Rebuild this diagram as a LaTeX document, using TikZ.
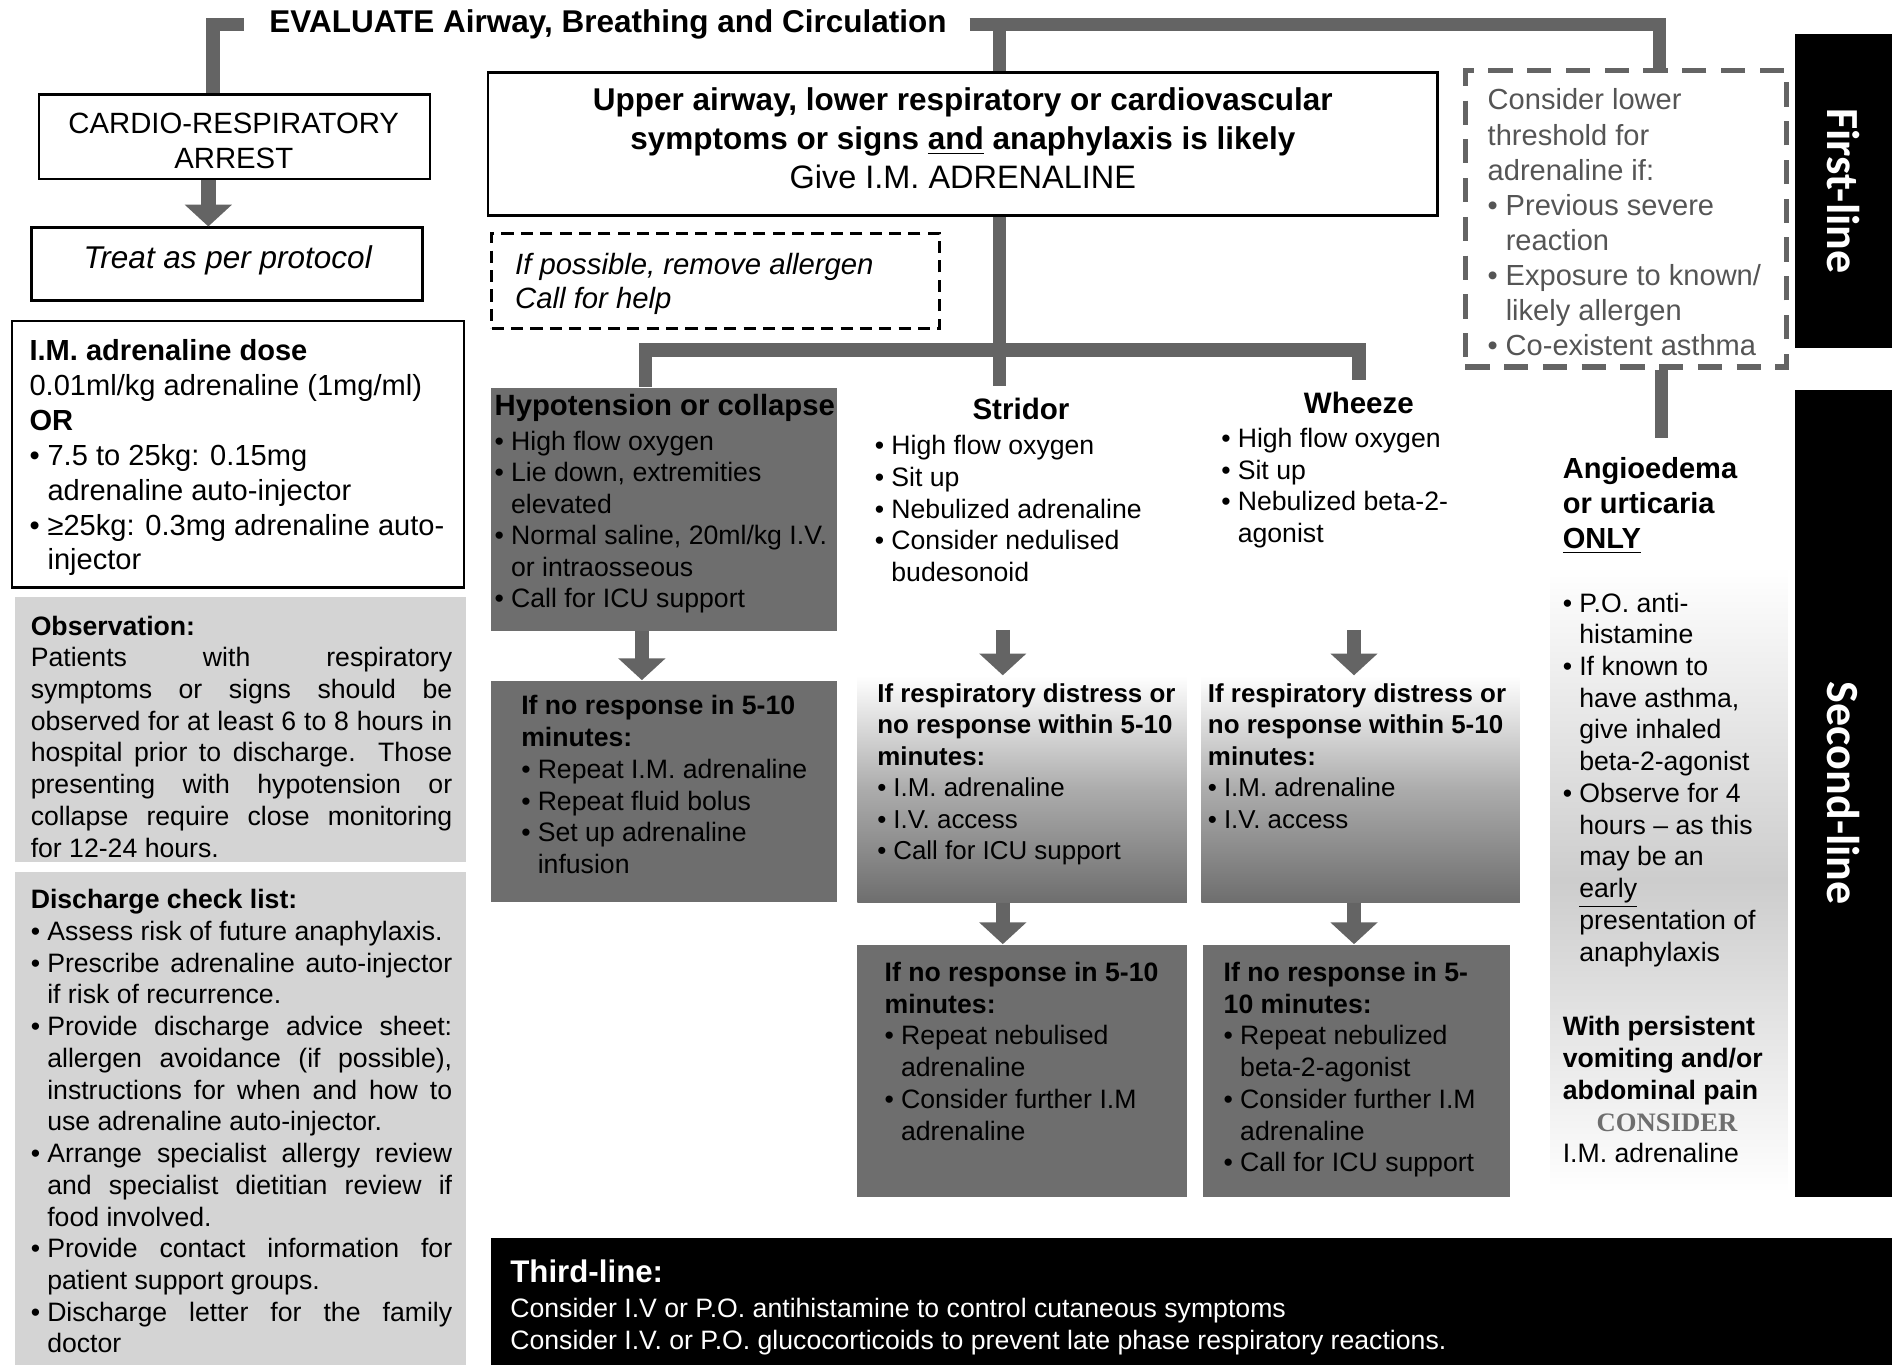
\documentclass[tikz,border=0pt]{standalone}
\usepackage{fontspec}
\setmainfont{Liberation Sans}
\newfontfamily\serifcaps{Liberation Serif}
\newfontfamily\barfont{Carlito}
\usetikzlibrary{arrows.meta,fit,calc,positioning}
\setlength{\parindent}{0pt}

\definecolor{connGray}{RGB}{100,100,100}
\definecolor{darkFill}{RGB}{110,110,110}
\definecolor{lightFill}{RGB}{212,212,212}
\definecolor{midFill}{RGB}{172,172,172}
\definecolor{angioFill}{RGB}{205,205,205}
\definecolor{thrGray}{RGB}{85,85,85}
\definecolor{consGray}{RGB}{110,110,110}

% bullets and justified lines
\newcommand{\bul}{\makebox[0.62em][l]{\textbullet}}
\newcommand{\bulind}{\hspace*{0.62em}}
\newcommand{\fontspaces}{\spaceskip=0pt\xspaceskip=0pt\relax}
\newcommand{\jline}[1]{\makebox[\hsize][s]{\fontspaces#1}}
\newcommand{\jbul}[1]{\bul\makebox[\dimexpr\hsize-0.62em\relax][s]{\fontspaces#1}}
\newcommand{\jind}[1]{\bulind\makebox[\dimexpr\hsize-0.62em\relax][s]{\fontspaces#1}}
\newcommand{\fsz}[2]{\fontsize{#1}{#2}\selectfont}

\tikzset{
  every node/.append style={execute at begin node=\fontspaces},
  conn/.style={draw=connGray, line width=5.5pt},
  arr/.style={connGray, line width=6pt, -{Triangle[width=19pt,length=9pt]}},
  whitebox/.style={draw=black, line width=1pt, fill=white, inner sep=0pt},
  darkbox/.style={fill=darkFill, inner sep=0pt},
  greybox/.style={fill=lightFill, inner sep=0pt},
  fadebox/.style={top color=white, bottom color=darkFill, middle color=midFill, inner sep=0pt},
  blackbar/.style={fill=black, inner sep=0pt},
  txt/.style={anchor=north west, inner sep=0pt, align=left},
  title/.style={inner sep=5pt, font=\fsz{12.2}{14}\bfseries},
  bartext/.style={rotate=-90, text=white, font=\barfont\bfseries\fsz{19}{22}},
}

\begin{document}
\begin{tikzpicture}[x=0.5pt, y=-0.5pt]
\useasboundingbox (0,0) rectangle (1568,1127);
% evaluate
\node[font=\fsz{13}{15}\bfseries] (eval) at (502,20) {EVALUATE Airway, Breathing and Circulation};

% left column
\node[whitebox, fit={(32,78) (355,148)}] (arrest) {};
\node[font=\fsz{12.1}{14.5}, align=center] (arresttxt) at (193,116) {CARDIO-RESPIRATORY\\ARREST};
\node[whitebox, fit={(26,188) (349,248)}] (treat) {};
\node[font=\fsz{13}{15}\itshape] (treattxt) at (188,215) {Treat as per protocol};
\node[whitebox, fit={(10,265) (383,485)}] (dose) {};
\node[txt, font=\fsz{12}{14.4}] (dosetxt) at (24,280) {\textbf{I.M. adrenaline dose}\\
  0.01ml/kg adrenaline (1mg/ml)\\ \textbf{OR}\\
  \bul 7.5 to 25kg: 0.15mg\\ \bulind adrenaline auto-injector\\
  \bul ≥25kg: 0.3mg adrenaline auto-\\ \bulind injector};
\node[greybox, fit={(12,493) (385,712)}] (obs) {};
\node[txt, text width=174pt, font=\fsz{11}{13.1}] (obstxt) at (25,508) {\textbf{Observation:}\\
  \jline{Patients with respiratory}\\
  \jline{symptoms or signs should be}\\
  \jline{observed for at least 6 to 8 hours in}\\
  \jline{hospital prior to discharge. Those}\\
  \jline{presenting with hypotension or}\\
  \jline{collapse require close monitoring}\\
  for 12-24 hours.};
\node[greybox, fit={(12,720) (385,1127)}] (disch) {};
\node[txt, text width=174pt, font=\fsz{11}{13.1}] (dischtxt) at (25,734) {\textbf{Discharge check list:}\\
  \bul Assess risk of future anaphylaxis.\\
  \jbul{Prescribe adrenaline auto-injector}\\ \bulind if risk of recurrence.\\
  \jbul{Provide discharge advice sheet:}\\ \jind{allergen avoidance (if possible),}\\
  \jind{instructions for when and how to}\\ \bulind use adrenaline auto-injector.\\
  \jbul{Arrange specialist allergy review}\\ \jind{and specialist dietitian review if}\\
  \bulind food involved.\\
  \jbul{Provide contact information for}\\ \bulind patient support groups.\\
  \jbul{Discharge letter for the family}\\ \bulind doctor};

% main box
\node[whitebox, fit={(403,60) (1187,178)}] (main) {};
\node[align=center, font=\fsz{13}{16}] (maintxt) at (795,114) {{\bfseries Upper airway, lower respiratory or cardiovascular}\\
  {\bfseries symptoms or signs \underline{and} anaphylaxis is likely}\\ {\fsz{13.4}{16}Give I.M. ADRENALINE}};
\node[draw=black, line width=1.2pt, dash pattern=on 5pt off 3pt, inner sep=0pt, fit={(406,193) (776,271)}] (allergen) {};
\node[txt, font=\fsz{12.1}{14}\itshape] (allergentxt) at (425,209) {If possible, remove allergen\\ Call for help};

% hypotension
\node[darkbox, fit={(405,320) (691,521)}] (hypo) {};
\node[txt, font=\fsz{11}{13}] (hypotxt) at (408,325) {\textbf{\fsz{12.1}{13}Hypotension or collapse}\\[1.5pt]
  \bul High flow oxygen\\ \bul Lie down, extremities\\ \bulind elevated\\
  \bul Normal saline, 20ml/kg I.V.\\ \bulind or intraosseous\\ \bul Call for ICU support};
\node[darkbox, fit={(405,562) (691,745)}] (hyponr) {};
\node[txt, font=\fsz{11}{13.1}] (hyponrtxt) at (430,574) {\textbf{If no response in 5-10}\\ \textbf{minutes:}\\
  \bul Repeat I.M. adrenaline\\ \bul Repeat fluid bolus\\ \bul Set up adrenaline\\ \bulind infusion};

% stridor
\node[title] (stridor) at (843,338) {Stridor};
\node[txt, font=\fsz{11}{13.1}] (slist) at (722,359) {\bul High flow oxygen\\ \bul Sit up\\
  \bul Nebulized adrenaline\\ \bul Consider nedulised\\ \bulind budesonoid};
\node[fadebox, fit={(708,558) (980,745)}] (sresp) {};
\node[txt, font=\fsz{10.7}{13}] (sresptxt) at (724,564) {\textbf{If respiratory distress or}\\
  \textbf{no response within 5-10}\\ \textbf{minutes:}\\
  \bul I.M. adrenaline\\ \bul I.V. access\\ \bul Call for ICU support};
\node[darkbox, fit={(708,780) (980,988)}] (snr) {};
\node[txt, font=\fsz{11}{13.1}] (snrtxt) at (730,794) {\textbf{If no response in 5-10}\\ \textbf{minutes:}\\
  \bul Repeat nebulised\\ \bulind adrenaline\\ \bul Consider further I.M\\ \bulind adrenaline};

% wheeze
\node[title] (wheeze) at (1122,333) {Wheeze};
\node[txt, font=\fsz{11}{13.1}] (wlist) at (1008,353) {\bul High flow oxygen\\ \bul Sit up\\
  \bul Nebulized beta-2-\\ \bulind agonist};
\node[fadebox, fit={(992,558) (1255,745)}] (wresp) {};
\node[txt, font=\fsz{10.7}{13}] (wresptxt) at (997,564) {\textbf{If respiratory distress or}\\
  \textbf{no response within 5-10}\\ \textbf{minutes:}\\
  \bul I.M. adrenaline\\ \bul I.V. access};
\node[darkbox, fit={(993,780) (1247,988)}] (wnr) {};
\node[txt, font=\fsz{11}{13.1}] (wnrtxt) at (1010,794) {\textbf{If no response in 5-}\\ \textbf{10 minutes:}\\
  \bul Repeat nebulized\\ \bulind beta-2-agonist\\ \bul Consider further I.M\\ \bulind adrenaline\\
  \bul Call for ICU support};

% right column
\node[draw=connGray, line width=2.2pt, dash pattern=on 10pt off 6pt, inner sep=0pt, fit={(1210,58) (1475,303)}] (thr) {};
\node[txt, text=thrGray, font=\fsz{12}{14.5}] (thrtxt) at (1228,73) {Consider lower\\ threshold for\\ adrenaline if:\\
  \bul Previous severe\\ \bulind reaction\\ \bul Exposure to known/\\ \bulind likely allergen\\ \bul Co-existent asthma};
\node[top color=white, bottom color=white, middle color=angioFill, inner sep=0pt, fit={(1280,468) (1476,985)}] (angiobg) {};
\node[txt, font=\fsz{12}{14.5}\bfseries] (angio) at (1290,377) {Angioedema\\ or urticaria\\ \underline{ONLY}};
\node[txt, font=\fsz{11}{13.1}] (angiolist) at (1290,489) {\bul P.O. anti-\\ \bulind histamine\\
  \bul If known to\\ \bulind have asthma,\\ \bulind give inhaled\\ \bulind beta-2-agonist\\
  \bul Observe for 4\\ \bulind hours \textendash{} as this\\ \bulind may be an\\ \bulind \underline{early}\\
  \bulind presentation of\\ \bulind anaphylaxis};
\node[txt, font=\fsz{11}{13.1}] (persist) at (1290,839) {\textbf{With persistent}\\ \textbf{vomiting and/or}\\
  \textbf{abdominal pain}\\ \hspace*{14pt}{\serifcaps\bfseries\color{consGray}CONSIDER}\\ I.M. adrenaline};

% side bars
\node[blackbar, fit={(1482,28) (1562,287)}] (firstbar) {};
\node[bartext] (firstlbl) at (firstbar.center) {First-line};
\node[blackbar, fit={(1482,322) (1562,988)}] (secondbar) {};
\node[bartext] (secondlbl) at (secondbar.center) {Second-line};
\node[blackbar, fit={(405,1022) (1562,1127)}] (third) {};
\node[txt, text=white, font=\fsz{11}{13}] (thirdtxt) at (421,1040) {\textbf{\fsz{12.9}{13}Third-line:}\\[1.5pt]
  Consider I.V or P.O. antihistamine to control cutaneous symptoms\\
  Consider I.V. or P.O. glucocorticoids to prevent late phase respiratory reactions.};

% connectors
\coordinate (lbend) at (176,20);
\coordinate (rbend) at (1370,20);
\coordinate (mtop) at (825,20);
\draw[conn] ([xshift=-7pt]eval.west) -- (lbend) -- (lbend |- arrest.north);
\draw[conn] ([xshift=6pt]eval.east) -- (rbend) -- (rbend |- thr.north);
\draw[conn] (mtop) -- (mtop |- main.north);
\coordinate (hl) at (533,289);
\coordinate (hm) at (825,289);
\coordinate (hr) at (1122,289);
\draw[conn] (main.south -| hm) -- (hm |- stridor.north);
\draw[conn] (hl |- hypo.north) -- (hl) -- (hr) -- (hr |- wheeze.north);
\coordinate (ax) at (1372,362);
\draw[conn] (thr.south -| ax) -- (ax);

% arrows
\coordinate (cx) at (172,0);
\draw[arr] (arrest.south -| cx) -- (treat.north -| cx);
\coordinate (hx) at (530,0);
\draw[arr] (hypo.south -| hx) -- (hyponr.north -| hx);
\coordinate (sx) at (828,520);
\draw[arr] (sx) -- (sx |- sresp.north);
\draw[arr] (sresp.south -| sx) -- (snr.north -| sx);
\coordinate (wx) at (1118,520);
\draw[arr] (wx) -- (wx |- wresp.north);
\draw[arr] (wresp.south -| wx) -- (wnr.north -| wx);
\end{tikzpicture}
\end{document}
